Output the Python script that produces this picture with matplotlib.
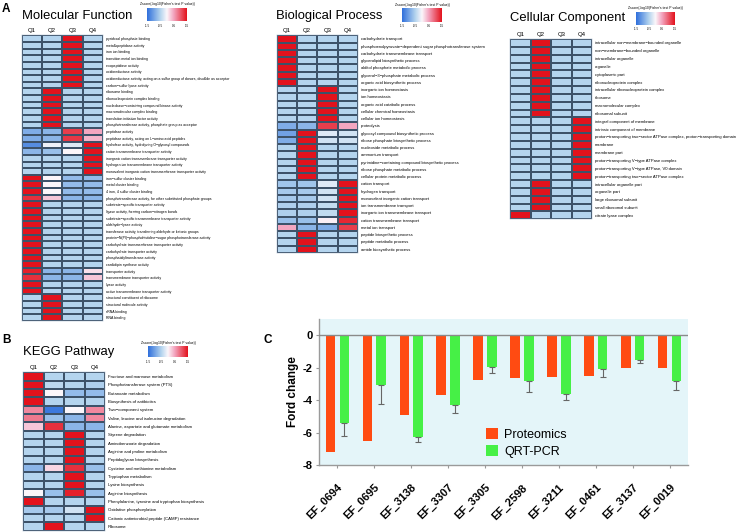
import numpy as np
import matplotlib
matplotlib.use('Agg')
import matplotlib.pyplot as plt
from matplotlib.colors import LinearSegmentedColormap

plt.rcParams['font.family'] = ['Liberation Sans', 'DejaVu Sans']

# ---------------- DATA ----------------
quartiles = ['Q1', 'Q2', 'Q3', 'Q4']
cbar_ticks = [-1.5, -0.5, 0.5, 1.5]
cbar_title = "Zscore(-log10(Fisher's test P value))"

mf_terms = [
    'pyridoxal phosphate binding', 'metallopeptidase activity', 'iron ion binding',
    'transition metal ion binding', 'exopeptidase activity', 'oxidoreductase activity',
    'oxidoreductase activity, acting on a sulfur group of donors, disulfide as acceptor',
    'carbon\u2212sulfur lyase activity', 'ribosome binding', 'ribonucleoprotein complex binding',
    'nucleobase\u2212containing compound kinase activity', 'macromolecular complex binding',
    'translation initiation factor activity', 'phosphotransferase activity, phosphate group as acceptor',
    'peptidase activity', 'peptidase activity, acting on L\u2212amino acid peptides',
    'hydrolase activity, hydrolyzing O\u2212glycosyl compounds', 'cation transmembrane transporter activity',
    'inorganic cation transmembrane transporter activity', 'hydrogen ion transmembrane transporter activity',
    'monovalent inorganic cation transmembrane transporter activity', 'iron\u2212sulfur cluster binding',
    'metal cluster binding', '4 iron, 4 sulfur cluster binding',
    'phosphotransferase activity, for other substituted phosphate groups',
    'substrate\u2212specific transporter activity', 'ligase activity, forming carbon\u2212nitrogen bonds',
    'substrate\u2212specific transmembrane transporter activity', 'aldehyde\u2212lyase activity',
    'transferase activity, transferring aldehyde or ketonic groups',
    'protein\u2212N(PI)\u2212phosphohistidine\u2212sugar phosphotransferase activity',
    'carbohydrate transmembrane transporter activity', 'carbohydrate transporter activity',
    'phosphatidyltransferase activity', 'cardiolipin synthase activity', 'transporter activity',
    'transmembrane transporter activity', 'lyase activity', 'active transmembrane transporter activity',
    'structural constituent of ribosome', 'structural molecule activity', 'rRNA binding', 'RNA binding']
mf_values = (
    [[-0.5, -0.5, 1.5, -0.5]] * 8 +
    [[-0.5, 1.5, -0.5, -0.5]] * 6 +
    [[-0.9, -0.8, 1.2, 0.5], [-0.9, -0.8, 1.25, 0.4],
     [-1.2, -0.1, -0.2, 1.5], [-0.8, -0.7, 0.0, 1.5]] +
    [[-0.5, -0.5, -0.5, 1.5]] * 3 +
    [[1.5, 0.0, -0.75, -0.75]] * 3 +
    [[1.3, 0.3, -0.8, -0.8]] +
    [[1.5, -0.5, -0.5, -0.5]] * 10 +
    [[1.4, -0.8, -0.8, 0.15], [1.3, -0.8, -0.8, 0.3]] +
    [[1.5, -0.5, -0.5, -0.5]] * 2 +
    [[-0.5, 1.5, -0.5, -0.5]] * 4)

bp_terms = [
    'carbohydrate transport', 'phosphoenolpyruvate\u2212dependent sugar phosphotransferase system',
    'carbohydrate transmembrane transport', 'glycerolipid biosynthetic process',
    'alditol phosphate metabolic process', 'glycerol\u22123\u2212phosphate metabolic process',
    'organic acid biosynthetic process', 'inorganic ion homeostasis', 'ion homeostasis',
    'organic acid catabolic process', 'cellular chemical homeostasis', 'cellular ion homeostasis',
    'proteolysis', 'glycosyl compound biosynthetic process', 'ribose phosphate biosynthetic process',
    'nucleoside metabolic process', 'ammonium transport',
    'pyrimidine\u2212containing compound biosynthetic process', 'ribose phosphate metabolic process',
    'cellular protein metabolic process', 'cation transport', 'hydrogen transport',
    'monovalent inorganic cation transport', 'ion transmembrane transport',
    'inorganic ion transmembrane transport', 'cation transmembrane transport', 'metal ion transport',
    'peptide biosynthetic process', 'peptide metabolic process', 'amide biosynthetic process']
bp_values = (
    [[1.5, -0.5, -0.5, -0.5]] * 7 +
    [[-0.5, -0.5, 1.5, -0.5]] * 5 +
    [[-0.9, -0.8, 1.2, 0.5], [-1.0, 1.5, -0.2, -0.3], [-0.9, 1.5, -0.3, -0.3]] +
    [[-0.5, 1.5, -0.5, -0.5]] * 5 +
    [[-0.65, -0.65, -0.2, 1.5], [-0.6, -0.6, -0.3, 1.5], [-0.6, -0.6, -0.3, 1.5],
     [-0.55, -0.55, -0.4, 1.5], [-0.55, -0.55, -0.4, 1.5], [-0.7, -0.7, 0.05, 1.35],
     [0.5, -0.8, -0.9, 1.2]] +
    [[-0.5, 1.5, -0.5, -0.5]] * 3)

cc_terms = [
    'intracellular non\u2212membrane\u2212bounded organelle', 'non\u2212membrane\u2212bounded organelle',
    'intracellular organelle', 'organelle', 'cytoplasmic part', 'ribonucleoprotein complex',
    'intracellular ribonucleoprotein complex', 'ribosome', 'macromolecular complex', 'ribosomal subunit',
    'integral component of membrane', 'intrinsic component of membrane',
    'proton\u2212transporting two\u2212sector ATPase complex, proton\u2212transporting domain',
    'membrane', 'membrane part', 'proton\u2212transporting V\u2212type ATPase complex',
    'proton\u2212transporting V\u2212type ATPase, V0 domain',
    'proton\u2212transporting two\u2212sector ATPase complex', 'intracellular organelle part',
    'organelle part', 'large ribosomal subunit', 'small ribosomal subunit', 'citrate lyase complex']
cc_values = (
    [[-0.5, 1.5, -0.5, -0.5]] * 10 +
    [[-0.5, -0.5, -0.5, 1.5]] * 8 +
    [[-0.5, 1.5, -0.5, -0.5]] * 4 +
    [[1.5, -0.5, -0.5, -0.5]])

kegg_terms = [
    'Fructose and mannose metabolism', 'Phosphotransferase system (PTS)', 'Butanoate metabolism',
    'Biosynthesis of antibiotics', 'Two\u2212component system',
    'Valine, leucine and isoleucine degradation', 'Alanine, aspartate and glutamate metabolism',
    'Styrene degradation', 'Aminobenzoate degradation', 'Arginine and proline metabolism',
    'Peptidoglycan biosynthesis', 'Cysteine and methionine metabolism', 'Tryptophan metabolism',
    'Lysine biosynthesis', 'Arginine biosynthesis',
    'Phenylalanine, tyrosine and tryptophan biosynthesis', 'Oxidative phosphorylation',
    'Cationic antimicrobial peptide (CAMP) resistance', 'Ribosome']
kegg_values = [
    [1.5, -0.5, -0.5, -0.5], [1.5, -0.45, -0.5, -0.55], [1.5, 0.0, -0.75, -0.75],
    [1.5, -0.5, -0.5, -0.5], [0.7, -1.4, 0.0, 0.7], [0.8, -0.7, -0.8, 0.7],
    [0.3, 1.3, -0.8, -0.8], [-0.5, -0.5, 1.5, -0.5], [-0.5, -0.5, 1.5, -0.5],
    [-0.5, -0.5, 1.5, -0.5], [-0.5, -0.5, 1.5, -0.5], [-0.8, 0.2, 1.3, -0.7],
    [-0.5, -0.5, 1.5, -0.5], [-0.5, -0.5, 1.5, -0.5], [0.0, -0.7, 1.4, -0.7],
    [1.5, -0.5, -0.5, -0.5], [-0.6, -0.6, -0.3, 1.5], [-0.5, -0.5, -0.5, 1.5],
    [-0.5, 1.5, -0.5, -0.5]]

genes = ['EF_0694', 'EF_0695', 'EF_3138', 'EF_3307', 'EF_3305',
         'EF_2598', 'EF_3211', 'EF_0461', 'EF_3137', 'EF_0019']
proteomics = [-7.2, -6.5, -4.9, -3.7, -2.75, -2.65, -2.55, -2.5, -2.05, -2.05]
qrt_pcr = [-5.4, -3.05, -6.3, -4.3, -1.95, -2.8, -3.6, -2.1, -1.5, -2.8]
qrt_err = [0.8, 1.22, 0.31, 0.52, 0.35, 0.7, 0.41, 0.5, 0.2, 0.58]
yticks_c = [0, -2, -4, -6, -8]

# ---------------- FIGURE ----------------
W, H = 747, 532
fig = plt.figure(figsize=(W / 100, H / 100), dpi=100)


def box(l, t, r, b):
    return [l / W, 1 - b / H, (r - l) / W, (b - t) / H]


cmap = LinearSegmentedColormap.from_list(
    'zs', [(0, '#2f6fdc'), (1 / 3, '#b4d4ee'), (0.5, '#fbf7fb'),
           (2 / 3, '#f3a6c0'), (1, '#e3121c')])


def heatmap(l, t, r, b, values, labels, fs, qfs):
    ax = fig.add_axes(box(l, t, r, b))
    arr = np.array(values)
    n = arr.shape[0]
    ax.pcolormesh(arr, cmap=cmap, vmin=-1.5, vmax=1.5,
                  edgecolors='#3d5269', linewidth=0.35)
    ax.set_xlim(0, 4)
    ax.set_ylim(n, 0)
    ax.set_yticks(np.arange(n) + 0.5)
    ax.set_yticklabels(labels, fontsize=fs)
    ax.yaxis.tick_right()
    ax.xaxis.tick_top()
    ax.set_xticks(np.arange(4) + 0.5)
    ax.set_xticklabels(quartiles, fontsize=qfs)
    ax.tick_params(axis='y', length=0, pad=2)
    ax.tick_params(axis='x', length=0, pad=1.5)
    for s in ax.spines.values():
        s.set_linewidth(0.3)
        s.set_color('#8fa6bd')
    return ax


def colorbar(l, t, r, b):
    ax = fig.add_axes(box(l, t, r, b))
    grad = np.linspace(-1.5, 1.5, 256)[None, :]
    ax.imshow(grad, aspect='auto', cmap=cmap, extent=[-1.5, 1.5, 0, 1])
    ax.set_xticks(cbar_ticks)
    ax.set_xticklabels([str(v) for v in cbar_ticks], fontsize=2.2)
    ax.tick_params(axis='x', length=0, pad=1.5)
    ax.set_yticks([])
    for s in ax.spines.values():
        s.set_visible(False)
    fig.text((l + r) / 2 / W, 1 - (t - 3.2) / H, cbar_title, fontsize=2.4,
             ha='center', va='center')


# Panel letters
fig.text(2 / W, 1 - 12 / H, 'A', fontsize=8.5, fontweight='bold')
fig.text(2 / W, 1 - 343 / H, 'B', fontsize=8.5, fontweight='bold')
fig.text(263 / W, 1 - 343 / H, 'C', fontsize=8.5, fontweight='bold')

# Titles
fig.text(21.5 / W, 1 - 19.3 / H, 'Molecular Function', fontsize=9.4)
fig.text(276.5 / W, 1 - 19.0 / H, 'Biological Process', fontsize=9.4)
fig.text(510.5 / W, 1 - 21.5 / H, 'Cellular Component', fontsize=9.4)
fig.text(23 / W, 1 - 355 / H, 'KEGG Pathway', fontsize=9.4)

# Heatmaps
heatmap(21.5, 35.3, 103, 321, mf_values, mf_terms, 2.5, 4.3)
heatmap(276.5, 35.3, 358, 252.8, bp_values, bp_terms, 3.0, 4.3)
heatmap(510.5, 39, 592, 219.3, cc_values, cc_terms, 3.0, 4.3)
heatmap(23.3, 372.3, 105, 530.6, kegg_values, kegg_terms, 3.1, 4.3)

# Colorbars
colorbar(147, 7.5, 187, 21.5)
colorbar(402, 8.3, 442, 21.7)
colorbar(636, 11.7, 675, 25)
colorbar(148, 346, 188, 357.5)

# ---------------- Bar chart C ----------------
ax = fig.add_axes(box(319, 319, 688, 465))
ax.set_facecolor('#e4f5f9')
x = np.arange(len(genes))
w = 0.26
ax.bar(x - 0.1875, proteomics, w, color='#ff4b12', label='Proteomics', zorder=2)
ax.bar(x + 0.1875, qrt_pcr, w, color='#46f046', label='QRT-PCR', zorder=2,
       yerr=[qrt_err, [0] * len(qrt_err)],
       error_kw=dict(ecolor='#666666', elinewidth=0.8, capsize=2, capthick=0.8))
ax.axhline(0, color='#8a8a8a', lw=1.0, zorder=3)
ax.set_xlim(-0.5, 9.5)
ax.set_ylim(-8, 1)
ax.set_yticks(yticks_c)
ax.set_yticklabels([str(v) for v in yticks_c], fontsize=8, fontweight='bold')
ax.set_xticks(x)
ax.set_xticklabels(genes, fontsize=8, fontweight='bold', rotation=45,
                   ha='right', va='top', rotation_mode='anchor')
ax.tick_params(axis='x', length=2.5, color='#999999', pad=10)
ax.tick_params(axis='y', length=2.5, color='#999999', pad=2)
ax.set_ylabel('Ford change', fontsize=8.5, fontweight='bold', labelpad=3)
for s in ['top', 'right']:
    ax.spines[s].set_visible(False)
for s in ['left', 'bottom']:
    ax.spines[s].set_color('#9a9a9a')
    ax.spines[s].set_linewidth(1.0)
ax.legend(loc='lower left', bbox_to_anchor=(0.43, -0.01), frameon=False,
          fontsize=9, handlelength=0.9, handleheight=0.9, labelspacing=0.35,
          handletextpad=0.5, borderpad=0.2)

fig.savefig('out.png', dpi=100)
